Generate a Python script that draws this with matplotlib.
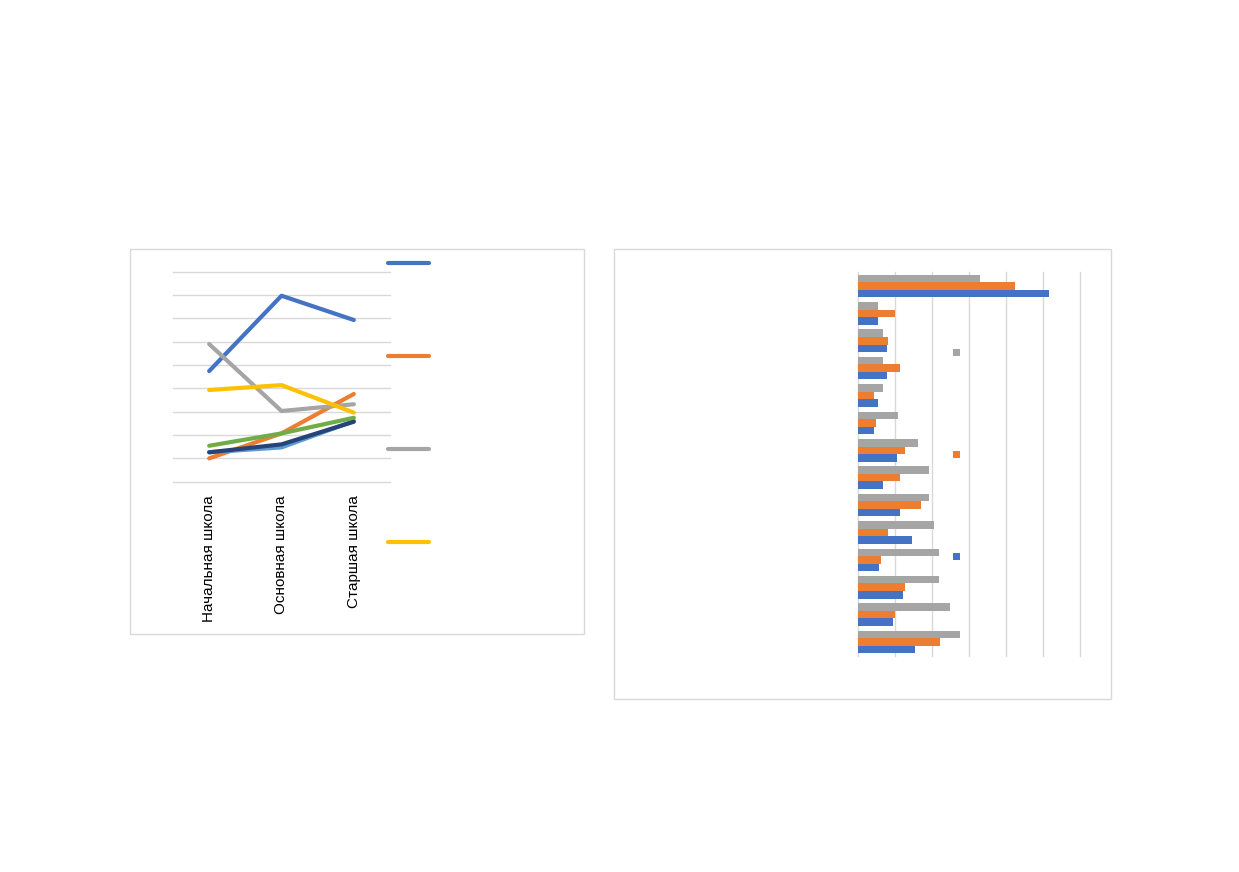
import numpy as np
import matplotlib
matplotlib.use('Agg')
import matplotlib.pyplot as plt
from matplotlib.patches import Rectangle
from matplotlib.lines import Line2D

plt.rcParams['font.family'] = ['Liberation Sans', 'DejaVu Sans']

# --- data: left line chart ---
levels = ['Начальная школа', 'Основная школа', 'Старшая школа']
s_blue = [4.74, 7.97, 6.93]
s_orange = [1.0, 2.07, 3.76]
s_gray = [5.9, 3.03, 3.32]
s_yellow = [3.93, 4.14, 2.96]
s_lightblue = [1.26, 1.47, 2.6]
s_green = [1.54, 2.07, 2.74]
s_darkblue = [1.26, 1.6, 2.57]

line_series = [s_blue, s_orange, s_gray, s_yellow, s_lightblue, s_green, s_darkblue]
line_colors = ['#4472C4', '#ED7D31', '#A5A5A5', '#FFC000', '#5B9BD5', '#70AD47', '#264478']

# --- data: right bar chart (bottom group first) ---
bar_blue = [1.55, 0.94, 1.22, 0.58, 1.46, 1.15, 0.67, 1.05, 0.45, 0.54, 0.80, 0.79, 0.54, 5.16]
bar_orange = [2.21, 1.0, 1.29, 0.64, 0.83, 1.71, 1.15, 1.29, 0.50, 0.45, 1.15, 0.83, 1.0, 4.25]
bar_gray = [2.75, 2.48, 2.19, 2.19, 2.05, 1.92, 1.92, 1.63, 1.09, 0.68, 0.68, 0.68, 0.54, 3.30]
bar_colors = ['#4472C4', '#ED7D31', '#A5A5A5']

W, H = 1239, 872
fig = plt.figure(figsize=(W / 100, H / 100), dpi=100)


def fx(px):
    return px / W


def fy(py):
    return 1 - py / H


grid_c = '#D9D9D9'

# chart frames
for x0, y0, x1, y1 in [(129.5, 249.5, 584, 634), (613.5, 249.5, 1110.5, 698.5)]:
    fig.add_artist(Rectangle((fx(x0), fy(y1)), fx(x1 - x0), (y1 - y0) / H,
                             transform=fig.transFigure, fill=False,
                             edgecolor=grid_c, lw=1))

# ---- left: line chart ----
ax1 = fig.add_axes([fx(173), fy(481.7), fx(390 - 173), (481.7 - 271.7) / H])
x = np.arange(len(levels))
for vals, c in zip(line_series, line_colors):
    ax1.plot(x, vals, color=c, lw=3, solid_capstyle='round', zorder=3)
ax1.set_xlim(-0.5, 2.5)
ax1.set_ylim(0, 9)
ax1.set_yticks(np.arange(0, 10))
ax1.yaxis.grid(True, color=grid_c, lw=1)
ax1.set_yticklabels([])
ax1.set_xticks(x)
ax1.set_xticklabels(levels, rotation=90, fontsize=11, color='#000000')
ax1.tick_params(axis='both', length=0)
ax1.tick_params(axis='x', pad=10)
for s in ax1.spines.values():
    s.set_visible(False)
for gl in ax1.get_ygridlines():
    gl.set_clip_on(False)

# legend (text-less entries), first four series
for i, c in enumerate(line_colors[:4]):
    yy = 263 + i * 93
    fig.add_artist(Line2D([fx(388), fx(429)], [fy(yy), fy(yy)], color=c, lw=3,
                          solid_capstyle='round', transform=fig.transFigure))

# ---- right: horizontal bars ----
ax2 = fig.add_axes([fx(857.7), fy(655.7), fx(1080 - 857.7), (655.7 - 272.3) / H])
n = len(bar_blue)
yg = np.arange(n)
h = 0.275
for k, (vals, c) in enumerate(zip([bar_blue, bar_orange, bar_gray], bar_colors)):
    ax2.barh(yg + (k - 1) * h, vals, height=h, color=c, zorder=3)
ax2.set_xlim(0, 6)
ax2.set_ylim(-0.5, n - 0.5)
ax2.set_xticks(np.arange(0, 7))
ax2.xaxis.grid(True, color=grid_c, lw=1)
ax2.set_xticklabels([])
ax2.set_yticks([])
ax2.tick_params(length=0)
for s in ax2.spines.values():
    s.set_visible(False)
for gl in ax2.get_xgridlines():
    gl.set_clip_on(False)

# legend squares (gray on top, blue at bottom)
for yy, c in zip([352, 454.3, 556.7], bar_colors[::-1]):
    fig.add_artist(Rectangle((fx(953.3), fy(yy + 3.5)), fx(7), 7 / H,
                             transform=fig.transFigure, color=c, lw=0))

fig.savefig('out.png', dpi=100, facecolor='white')
